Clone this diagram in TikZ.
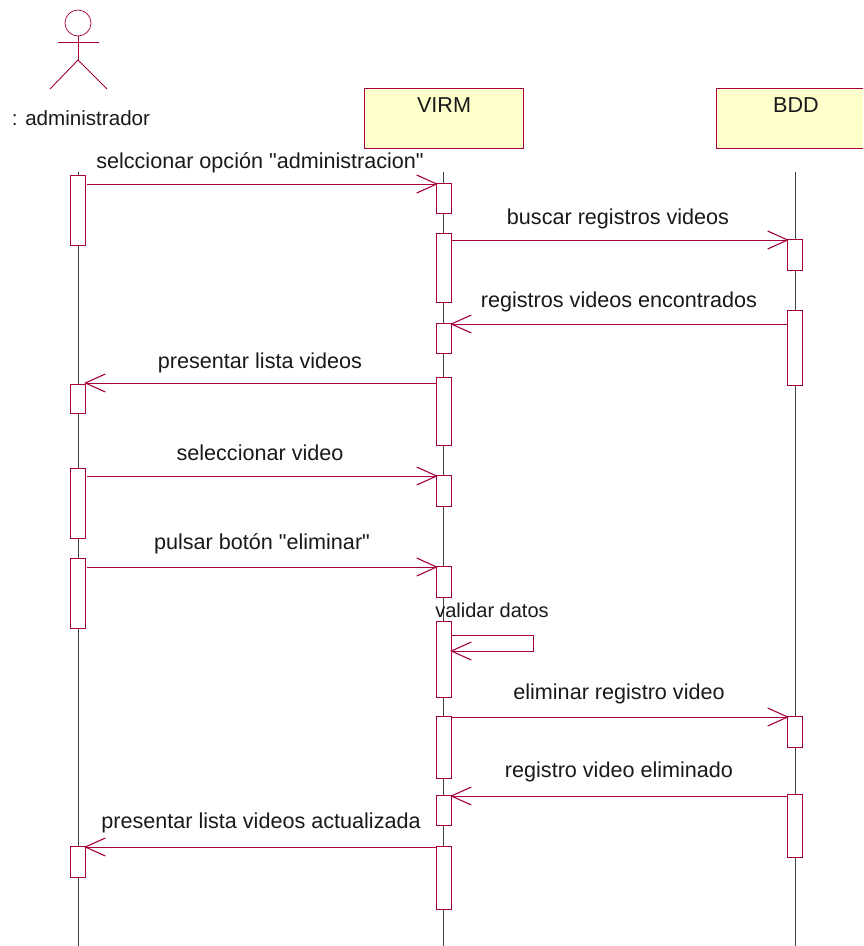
\documentclass[tikz,border=0pt]{standalone}
\usepackage{fontspec}
\newfontfamily\labelfont{Liberation Sans}
\usetikzlibrary{arrows.meta}
\definecolor{rose}{HTML}{A50040}
\definecolor{boxfill}{HTML}{FFFFCC}
\tikzset{
  x=1pt,y=-1pt,
  actorline/.style={draw=rose,line width=0.9pt},
  lifeline/.style={draw=black!75,line width=0.7pt},
  bar/.style={draw=rose,fill=white,line width=0.9pt,minimum width=15pt,inner sep=0pt,outer sep=0pt},
  participant/.style={draw=rose,fill=boxfill,line width=0.9pt,minimum width=159pt,minimum height=60pt,inner sep=0pt,outer sep=0pt},
  msg/.style={draw=rose,line width=0.9pt,-{Straight Barb[length=20pt,width=18pt,line width=1.1pt,sep=-2pt]}},
  lbl/.style={font=\labelfont\fontsize{21.6}{24}\selectfont,text=black!90,inner sep=0pt},
}
\newcommand{\barnode}[4]{\node[bar,minimum height=#4pt-#3pt,anchor=north] (#1) at (#2,#3) {};}
\begin{document}
\begin{tikzpicture}
\useasboundingbox (0,0) rectangle (863,946);
\begin{scope}
\clip (0,0) rectangle (863,946);
\node[participant,anchor=north west] (virm) at (364,88) {};
\node[participant,anchor=north west] (bdd) at (716,88) {};
\end{scope}
\node[lbl] (virmt) at (444,105) {VIRM};
\node[lbl] (bddt) at (796,105) {BDD};
% actor
\node[circle,draw=rose,line width=0.7pt,minimum size=26pt,inner sep=0pt] (head) at (78,23) {};
\coordinate (armL) at (58,42); \coordinate (armR) at (99,42);
\coordinate (hip) at (78,60); \coordinate (legL) at (50,89); \coordinate (legR) at (107,89);
\draw[actorline] (head.south) -- (hip);
\draw[actorline] (armL) -- (armR);
\draw[actorline] (legL) -- (hip) -- (legR);
\node[lbl,font=\labelfont\fontsize{20.6}{24}\selectfont] (actor) at (81,118) {: administrador};
% lifelines
\coordinate (la) at (78,172); \coordinate (lae) at (78,946);
\coordinate (lv) at (443.5,172); \coordinate (lve) at (443.5,946);
\coordinate (lb) at (795,172); \coordinate (lbe) at (795,946);
\draw[lifeline] (la) -- (lae);
\draw[lifeline] (lv) -- (lve);
\draw[lifeline] (lb) -- (lbe);
% activation bars
\barnode{a1}{77.5}{175}{245}
\barnode{a2}{77.5}{384}{413}
\barnode{a3}{77.5}{468}{538}
\barnode{a4}{77.5}{558}{628}
\barnode{a5}{77.5}{846}{877}
\barnode{v1}{443.5}{183}{213}
\barnode{v2}{443.5}{233}{302}
\barnode{v3}{443.5}{323}{353}
\barnode{v4}{443.5}{377}{445}
\barnode{v5}{443.5}{475}{506}
\barnode{v6}{443.5}{566}{597}
\barnode{v7}{443.5}{621}{697}
\barnode{v8}{443.5}{716}{778}
\barnode{v9}{443.5}{795}{825}
\barnode{v10}{443.5}{846}{909}
\barnode{b1}{794.5}{239}{270}
\barnode{b2}{794.5}{310}{385}
\barnode{b3}{794.5}{716}{747}
\barnode{b4}{794.5}{794}{857}
% messages
\draw[msg] ([shift={(2,9)}]a1.north east) -- ([shift={(0,1)}]v1.north west);
\draw[msg] ([shift={(1,7)}]v2.north east) -- ([shift={(0,1)}]b1.north west);
\draw[msg] ([shift={(0,14)}]b2.north west) -- ([shift={(1,1)}]v3.north east);
\draw[msg] ([shift={(0,6)}]v4.north west) -- ([shift={(1,-1)}]a2.north east);
\draw[msg] ([shift={(2,8)}]a3.north east) -- ([shift={(0,1)}]v5.north west);
\draw[msg] ([shift={(2,9)}]a4.north east) -- ([shift={(0,1)}]v6.north west);
\draw[msg] ([shift={(1,14)}]v7.north east) -| (533,651) -- ([shift={(1,30)}]v7.north east);
\draw[msg] ([shift={(1,1)}]v8.north east) -- ([shift={(0,1)}]b3.north west);
\draw[msg] ([shift={(0,2)}]b4.north west) -- ([shift={(1,1)}]v9.north east);
\draw[msg] ([shift={(0,1)}]v10.north west) -- ([shift={(1,1)}]a5.north east);
% labels
\node[lbl] (m1) at (260,162.5) {selccionar opción "administracion"};
\node[lbl] (m2) at (618,218.5) {buscar registros videos};
\node[lbl] (m3) at (619,301.5) {registros videos encontrados};
\node[lbl] (m4) at (260,362.5) {presentar lista videos};
\node[lbl] (m5) at (260,452.5) {seleccionar video};
\node[lbl] (m6) at (262,543.5) {pulsar botón "eliminar"};
\node[lbl,font=\labelfont\fontsize{20}{24}\selectfont] (m7) at (492,610.5) {validar datos};
\node[lbl] (m8) at (619,693.5) {eliminar registro video};
\node[lbl] (m9) at (619,771.5) {registro video eliminado};
\node[lbl] (m10) at (261,822.5) {presentar lista videos actualizada};
\end{tikzpicture}
\end{document}
